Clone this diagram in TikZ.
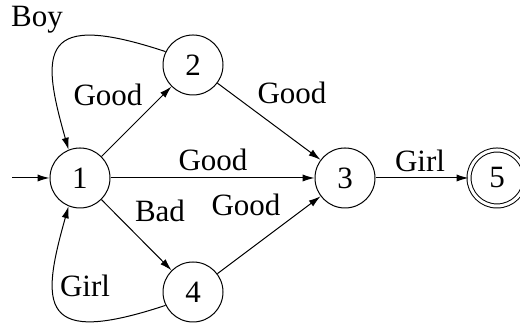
\documentclass[tikz,border=0pt]{standalone}
\usepackage{fontspec}
\setmainfont{Liberation Serif}
\usetikzlibrary{arrows.meta}
\usetikzlibrary{positioning}
\tikzset{
    state/.style={draw=black, circle, inner sep=0pt, minimum size=30pt},
    accept/.style={draw=black, circle, inner sep=0pt, minimum size=28pt, double, double distance=1.5pt},
    trans/.style={draw=black, -{Latex[length=6pt,width=3.6pt]}},
    lbl/.style={inner sep=0pt},
}

\begin{document}
\begin{tikzpicture}[x=0.5pt, y=0.5pt, line width=.5pt, font=\fontsize{15.5}{18}\selectfont]
		\useasboundingbox (0,0) rectangle (520,324);
		\node[state] (n1) at (80,146) {1};
		\node[state] (n2) at (193,259) {2};
		\node[state] (n3) at (345,146) {3};
		\node[state] (n4) at (193,32) {4};
		\node[accept] (n5) at (497,146) {5};
		\coordinate (start) at (12,146);

		\draw[trans](start)--(n1);
		\draw[trans](n1)--(n2);
		\draw[trans](n2)--(n3);
		\draw[trans](n1)--(n3);
		\draw[trans](n1)--(n4);
		\draw[trans](n4)--(n3);
		\draw[trans](n3)--(n5);
		\draw[trans](n2.154) .. controls (40,314) and (40,274) .. (n1.112);
		\draw[trans](n4.206) .. controls (40,-23) and (40,17) .. (n1.248);

		\node[lbl] (lboy) at (37,304) {Boy};
		\node[lbl] (lgood12) at (108,229) {Good};
		\node[lbl] (lgood23) at (292,231) {Good};
		\node[lbl] (lgood13) at (213,164) {Good};
		\node[lbl] (lbad) at (160,113) {Bad};
		\node[lbl] (lgood43) at (246,119) {Good};
		\node[lbl] (lgirl41) at (85,38) {Girl};
		\node[lbl] (lgirl35) at (420,163) {Girl};
\end{tikzpicture}
\end{document}
